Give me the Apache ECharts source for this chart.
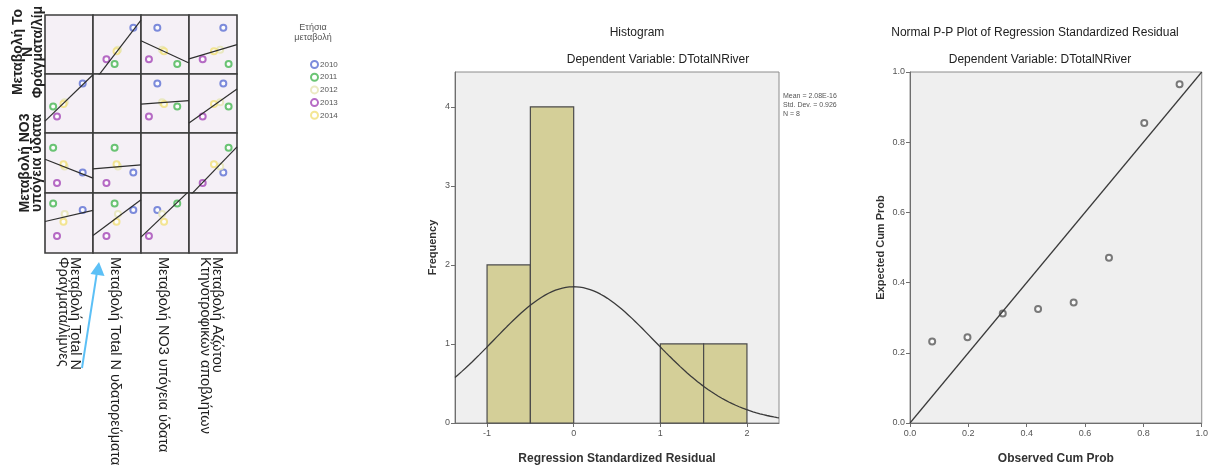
<!DOCTYPE html>
<html>
<head>
<meta charset="utf-8">
<script src="https://cdn.jsdelivr.net/npm/echarts@6/dist/echarts.min.js"></script>
<style>
  html, body { margin: 0; padding: 0; background: #ffffff; }
  #chart { width: 1211px; height: 470px; }
</style>
</head>
<body>
<div id="chart"></div>
<script>
// ---- Scatter-matrix data: scaled annual change of each variable, one value per year ----
const years = ['2010', '2011', '2012', '2013', '2014'];
const yearColors = ['#5c6fd3', '#46b653', '#e6e5b3', '#a446b6', '#f1e079'];

const dTotalNReservoirs  = [0.785, 0.17, 0.41, 0.25, 0.385];
const dTotalNRivers      = [0.84, 0.45, 0.52, 0.28, 0.49];
const dNO3Groundwater    = [0.34, 0.755, 0.44, 0.165, 0.48];
const dNLivestockWaste   = [0.715, 0.825, 0.65, 0.285, 0.52];
const matrixVars = [dTotalNReservoirs, dTotalNRivers, dNO3Groundwater, dNLivestockWaste];

const rowLabels = [
  ['Μεταβολή Το', 'N', 'Φράγματα/λίμ'],
  null,
  ['Μεταβολή NO3', 'υπόγεια ύδατα'],
  null
];
const colLabels = [
  ['Μεταβολή Total N', 'Φράγματα/λίμνες'],
  ['Μεταβολή Total N υδατορεύματα'],
  ['Μεταβολή NO3 υπόγεια ύδατα'],
  ['Μεταβολή Αζώτου', 'Κτηνοτροφικών αποβλήτων']
];

// ---- Histogram of regression standardized residuals ----
const histBins = [[-1, -0.5, 2], [-0.5, 0, 4], [1, 1.5, 1], [1.5, 2, 1]];
const residMean = 2.08e-16;
const residSd = 0.926;
const residN = 8;
const histXTicks = [-1, 0, 1, 2];
const histYTicks = [0, 1, 2, 3, 4];

// ---- Normal P-P plot ----
const observedCumProb = [0.076, 0.197, 0.318, 0.439, 0.561, 0.682, 0.803, 0.924];
const expectedCumProb = [0.232, 0.244, 0.312, 0.325, 0.343, 0.471, 0.855, 0.965];

// ---------------------------------------------------------------
const chart = echarts.init(document.getElementById('chart'));
const FONT = '"Liberation Sans", Arial, sans-serif';

const colEdges = [45, 93, 141, 189, 237];
const rowEdges = [15, 74, 133, 193, 253];

const grids = [], xAxes = [], yAxes = [], series = [];

function fit(xs, ys) {
  const n = xs.length;
  const mx = xs.reduce((a, b) => a + b, 0) / n;
  const my = ys.reduce((a, b) => a + b, 0) / n;
  let sxy = 0, sxx = 0;
  for (let i = 0; i < n; i++) { sxy += (xs[i] - mx) * (ys[i] - my); sxx += (xs[i] - mx) ** 2; }
  const b = sxy / sxx;
  return { a: my - b * mx, b };
}

for (let r = 0; r < 4; r++) {
  for (let c = 0; c < 4; c++) {
    const k = grids.length;
    grids.push({
      left: colEdges[c], top: rowEdges[r],
      width: colEdges[c + 1] - colEdges[c], height: rowEdges[r + 1] - rowEdges[r],
      show: true, backgroundColor: '#f5f0f6', borderColor: '#3c3c3c', borderWidth: 1.6
    });
    xAxes.push({ gridIndex: k, type: 'value', min: 0, max: 1, show: false });
    yAxes.push({ gridIndex: k, type: 'value', min: 0, max: 1, show: false });
    if (r === c) continue;
    const xs = matrixVars[c], ys = matrixVars[r];
    years.forEach((yr, i) => {
      series.push({
        name: yr, type: 'scatter', xAxisIndex: k, yAxisIndex: k,
        symbol: 'emptyCircle', symbolSize: 6, silent: true,
        itemStyle: { color: yearColors[i], borderColor: yearColors[i], borderWidth: 1.2 },
        data: [[xs[i], ys[i]]]
      });
    });
    const f = fit(xs, ys);
    series.push({
      name: 'fit', type: 'line', xAxisIndex: k, yAxisIndex: k,
      symbol: 'none', clip: true, silent: true,
      lineStyle: { color: '#2e2e2e', width: 1.2 },
      data: [[0, f.a], [1, f.a + f.b]]
    });
  }
}

// Histogram grid
const H = grids.length;
grids.push({ left: 455, top: 72, width: 324, height: 354, show: true,
  backgroundColor: '#efefef', borderColor: '#8c8c8c', borderWidth: 1 });
const tickLabel = { color: '#555', fontSize: 9, fontFamily: FONT };
xAxes.push({
  gridIndex: H, type: 'value', min: -1.37, max: 2.37,
  splitLine: { show: false },
  axisLine: { show: true, onZero: false, lineStyle: { color: '#6e6e6e' } },
  axisTick: { show: true, length: 4, customValues: histXTicks, lineStyle: { color: '#6e6e6e' } },
  axisLabel: Object.assign({ customValues: histXTicks, margin: 6 }, tickLabel),
  name: 'Regression Standardized Residual', nameLocation: 'middle', nameGap: 30,
  nameTextStyle: { color: '#333', fontSize: 12, fontWeight: 'bold', fontFamily: FONT }
});
yAxes.push({
  gridIndex: H, type: 'value', min: 0, max: 4.44,
  splitLine: { show: false },
  axisLine: { show: true, onZero: false, lineStyle: { color: '#6e6e6e' } },
  axisTick: { show: true, length: 4, customValues: histYTicks, lineStyle: { color: '#6e6e6e' } },
  axisLabel: Object.assign({ customValues: histYTicks, margin: 5 }, tickLabel),
  name: 'Frequency', nameLocation: 'middle', nameGap: 17, nameRotate: 90,
  nameTextStyle: { color: '#333', fontSize: 11, fontWeight: 'bold', fontFamily: FONT }
});
series.push({
  type: 'custom', xAxisIndex: H, yAxisIndex: H, silent: true,
  encode: { x: [0, 1], y: 2 },
  data: histBins,
  renderItem: function (params, api) {
    const p0 = api.coord([api.value(0), api.value(2)]);
    const p1 = api.coord([api.value(1), 0]);
    return {
      type: 'rect',
      shape: { x: p0[0], y: p0[1], width: p1[0] - p0[0], height: p1[1] - p0[1] },
      style: { fill: '#d4cf98', stroke: '#4b4b4b', lineWidth: 1.2 }
    };
  }
});
// Normal curve scaled to counts (N * bin width * density)
const binW = histBins[0][1] - histBins[0][0];
const curve = [];
for (let x = -1.37; x <= 2.371; x += 0.02) {
  const z = (x - residMean) / residSd;
  curve.push([x, residN * binW * Math.exp(-0.5 * z * z) / (residSd * Math.sqrt(2 * Math.PI))]);
}
series.push({
  type: 'line', xAxisIndex: H, yAxisIndex: H, symbol: 'none', silent: true,
  lineStyle: { color: '#3a3a3a', width: 1.3 }, data: curve
});

// P-P plot grid
const P = grids.length;
grids.push({ left: 910, top: 72, width: 293, height: 355, show: true,
  backgroundColor: '#efefef', borderColor: '#8c8c8c', borderWidth: 1 });
xAxes.push({
  gridIndex: P, type: 'value', min: 0, max: 1, interval: 0.2,
  splitLine: { show: false },
  axisLine: { show: true, onZero: false, lineStyle: { color: '#6e6e6e' } },
  axisTick: { show: true, length: 4, lineStyle: { color: '#6e6e6e' } },
  axisLabel: Object.assign({ margin: 6, formatter: v => v.toFixed(1) }, tickLabel),
  name: 'Observed Cum Prob', nameLocation: 'middle', nameGap: 30,
  nameTextStyle: { color: '#333', fontSize: 12, fontWeight: 'bold', fontFamily: FONT }
});
yAxes.push({
  gridIndex: P, type: 'value', min: 0, max: 1, interval: 0.2,
  splitLine: { show: false },
  axisLine: { show: true, onZero: false, lineStyle: { color: '#6e6e6e' } },
  axisTick: { show: true, length: 4, lineStyle: { color: '#6e6e6e' } },
  axisLabel: Object.assign({ margin: 5, formatter: v => v.toFixed(1) }, tickLabel),
  name: 'Expected Cum Prob', nameLocation: 'middle', nameGap: 24, nameRotate: 90,
  nameTextStyle: { color: '#333', fontSize: 11, fontWeight: 'bold', fontFamily: FONT }
});
series.push({
  type: 'line', xAxisIndex: P, yAxisIndex: P, symbol: 'none', silent: true,
  lineStyle: { color: '#3a3a3a', width: 1.2 }, data: [[0, 0], [1, 1]]
});
series.push({
  type: 'scatter', xAxisIndex: P, yAxisIndex: P, silent: true,
  symbol: 'emptyCircle', symbolSize: 6,
  itemStyle: { color: '#5a5a5a', borderColor: '#5a5a5a', borderWidth: 1.2 },
  data: observedCumProb.map((x, i) => [x, expectedCumProb[i]])
});

// ---- Text and annotations ----
const graphics = [];
function txt(x, y, text, style, rotation) {
  graphics.push({
    type: 'text', x, y, rotation: rotation || 0, silent: true,
    style: Object.assign({ text, fontFamily: FONT, fill: '#222' }, style)
  });
}
// matrix row labels (read bottom to top)
txt(28, 52, rowLabels[0].join('\n'),
  { fontSize: 14, fontWeight: 'bold', lineHeight: 10, align: 'center', verticalAlign: 'middle', fill: '#222' }, Math.PI / 2);
txt(31, 163, rowLabels[2].join('\n'),
  { fontSize: 14, fontWeight: 'bold', lineHeight: 12, align: 'center', verticalAlign: 'middle', fill: '#222' }, Math.PI / 2);
// matrix column labels (read top to bottom)
const colCenters = [68.5, 115, 163, 211];
colLabels.forEach((lines, i) => {
  txt(colCenters[i], 257, lines.join('\n'),
    { fontSize: 14.5, lineHeight: 12, align: 'left', verticalAlign: 'middle', fill: '#1e1e1e' }, -Math.PI / 2);
});
// pointer arrow
graphics.push({ type: 'line', silent: true, shape: { x1: 82, y1: 368, x2: 97, y2: 272 },
  style: { stroke: '#5cc0f6', lineWidth: 2 } });
graphics.push({ type: 'polygon', silent: true, shape: { points: [[99, 262], [104.5, 276], [90.5, 274]] },
  style: { fill: '#5cc0f6' } });
// legend title
txt(313, 28, 'Ετήσια', { fontSize: 9, align: 'center', verticalAlign: 'middle', fill: '#555' });
txt(313, 38, 'μεταβολή', { fontSize: 9, align: 'center', verticalAlign: 'middle', fill: '#555' });
// histogram titles and statistics
txt(637, 33, 'Histogram', { fontSize: 12, align: 'center', verticalAlign: 'middle', fill: '#222' });
txt(658, 60, 'Dependent Variable: DTotalNRiver', { fontSize: 12, align: 'center', verticalAlign: 'middle', fill: '#222' });
txt(783, 92, 'Mean = 2.08E-16\nStd. Dev. = 0.926\nN = 8',
  { fontSize: 7, lineHeight: 9, align: 'left', verticalAlign: 'top', fill: '#555' });
// P-P plot titles
txt(1035, 33, 'Normal P-P Plot of Regression Standardized Residual', { fontSize: 12, align: 'center', verticalAlign: 'middle', fill: '#222' });
txt(1040, 60, 'Dependent Variable: DTotalNRiver', { fontSize: 12, align: 'center', verticalAlign: 'middle', fill: '#222' });

chart.setOption({
  animation: false,
  backgroundColor: '#ffffff',
  textStyle: { fontFamily: FONT },
  legend: {
    data: years, orient: 'vertical', left: 305, top: 55,
    itemWidth: 7, itemHeight: 7, itemGap: 3.7, selectedMode: false,
    textStyle: { color: '#555', fontSize: 8, padding: [0, 0, 0, -3] }
  },
  grid: grids,
  xAxis: xAxes,
  yAxis: yAxes,
  series,
  graphic: graphics
});
</script>
</body>
</html>
